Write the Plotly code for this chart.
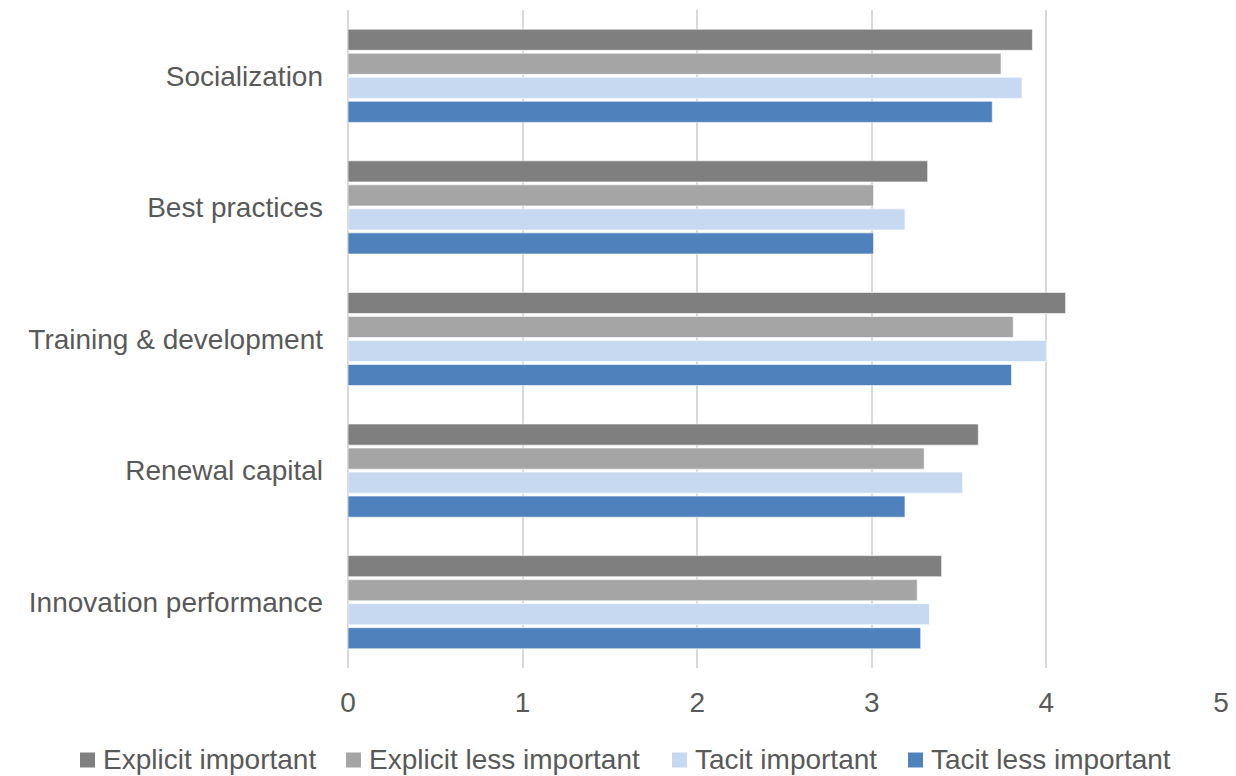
import plotly.graph_objects as go

categories = ["Innovation performance", "Renewal capital", "Training & development",
              "Best practices", "Socialization"]
explicit_important = [3.40, 3.61, 4.11, 3.32, 3.92]
explicit_less_important = [3.26, 3.30, 3.81, 3.01, 3.74]
tacit_important = [3.33, 3.52, 4.00, 3.19, 3.86]
tacit_less_important = [3.28, 3.19, 3.80, 3.01, 3.69]

series_names = ["Explicit important", "Explicit less important", "Tacit important", "Tacit less important"]
series_values = [explicit_important, explicit_less_important, tacit_important, tacit_less_important]
series_colors = ["#7f7f7f", "#a5a5a5", "#c6d9f1", "#4f81bd"]

W, H = 1236, 776
ML, MR, MT, MB = 348, 15, 10, 108
plot_w = W - ML - MR
plot_h = H - MT - MB

fig = go.Figure()
# add in reverse so the first series is drawn at the top of each group
for name, vals, color in reversed(list(zip(series_names, series_values, series_colors))):
    fig.add_trace(go.Bar(
        y=categories, x=vals, name=name, orientation="h",
        marker=dict(color=color, line=dict(color="rgba(255,255,255,0.6)", width=1)),
        showlegend=False,
    ))

font_color = "#595959"
fs = 28

# manual legend (one row, below the axis), positions in pixels converted to paper coords
legend_marker_left_px = [80, 346, 672, 908]
legend_cy_px = 760
marker_size_px = 15

def px_to_paper_x(px):
    return (px - ML) / plot_w

def px_to_paper_y(py):
    return (H - MB - py) / plot_h

shapes = []
annotations = []
for name, color, mx in zip(series_names, series_colors, legend_marker_left_px):
    shapes.append(dict(
        type="rect", xref="paper", yref="paper",
        x0=px_to_paper_x(mx), x1=px_to_paper_x(mx + marker_size_px),
        y0=px_to_paper_y(legend_cy_px + marker_size_px / 2),
        y1=px_to_paper_y(legend_cy_px - marker_size_px / 2),
        fillcolor=color, line=dict(width=0),
    ))
    annotations.append(dict(
        text=name, xref="paper", yref="paper",
        x=px_to_paper_x(mx + marker_size_px + 6), y=px_to_paper_y(legend_cy_px - 1),
        xanchor="left", yanchor="middle", showarrow=False,
        font=dict(size=fs, color=font_color, family="Liberation Sans, Arial, sans-serif"),
    ))

fig.update_layout(
    width=W, height=H,
    margin=dict(l=ML, r=MR, t=MT, b=MB),
    paper_bgcolor="white", plot_bgcolor="white",
    barmode="group", bargap=0.27, bargroupgap=0.12,
    font=dict(family="Liberation Sans, Arial, sans-serif", size=fs, color=font_color),
    showlegend=False,
    shapes=shapes, annotations=annotations,
    xaxis=dict(range=[0, 5], dtick=1, showgrid=True, gridcolor="#d9d9d9", gridwidth=1.5,
               zeroline=True, zerolinecolor="#d9d9d9", zerolinewidth=1.5,
               showline=False, ticks="", ticklabelstandoff=15, automargin=False,
               tickfont=dict(size=fs, color=font_color)),
    yaxis=dict(categoryorder="array", categoryarray=categories, showgrid=False,
               showline=False, ticks="", ticklabelstandoff=24, automargin=False,
               tickfont=dict(size=fs, color=font_color)),
)

fig.write_html("out.html")
